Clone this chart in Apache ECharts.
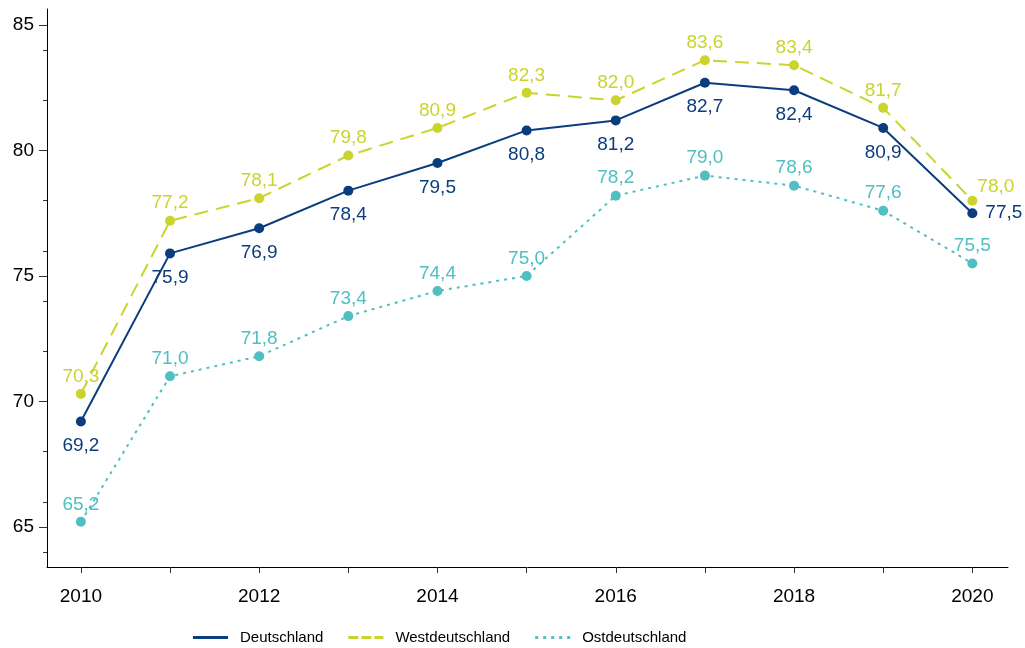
<!DOCTYPE html>
<html lang="de">
<head>
    <meta charset="UTF-8">
    <title>Deutschland / West / Ost</title>
    <script src="https://cdn.jsdelivr.net/npm/echarts@6/dist/echarts.min.js"></script>
    <style>
        body { margin: 0; background: #fff; }
    </style>
</head>
<body>
<div id="main" style="width: 1025px;height: 648px"></div>
<script type="text/javascript">
    // Daten
    var years = [2010, 2011, 2012, 2013, 2014, 2015, 2016, 2017, 2018, 2019, 2020];
    var deutschland = [69.2, 75.9, 76.9, 78.4, 79.5, 80.8, 81.2, 82.7, 82.4, 80.9, 77.5];
    var west = [70.3, 77.2, 78.1, 79.8, 80.9, 82.3, 82.0, 83.6, 83.4, 81.7, 78.0];
    var ost = [65.2, 71.0, 71.8, 73.4, 74.4, 75.0, 78.2, 79.0, 78.6, 77.6, 75.5];
    var xLabels = [2010, 2012, 2014, 2016, 2018, 2020];
    var yLabels = [65, 70, 75, 80, 85];
    var yMinorTicks = [64, 66, 68, 70, 72, 74, 76, 78, 80, 82, 84];

    var font = 'Liberation Sans, Arial, sans-serif';
    var cDe = '#0a3d7e', cWest = '#cad42c', cOst = '#4fbfc1';

    // Legendensymbole: durchgezogen, gestrichelt, gepunktet (35x3)
    var iconSolid = 'path://M0,0h35v3h-35z';
    var iconDash = 'path://M0,0h10v3h-10z M13,0h10v3h-10z M26,0h9v3h-9z';
    var iconDot = 'path://M0,0h3v3h-3z M8,0h3v3h-3z M16,0h3v3h-3z M24,0h3v3h-3z M32,0h3v3h-3z';

    function pairs(arr) {
        return arr.map(function (v, i) { return [years[i], v]; });
    }
    function fmt(p) {
        return p.value[1].toFixed(1).replace('.', ',');
    }

    var myChart = echarts.init(document.getElementById('main'));
    var option = {
        animation: false,
        grid: {left: 47, right: 17, top: 9, bottom: 81},
        legend: {
            top: 625,
            left: 188,
            itemWidth: 35,
            itemHeight: 3,
            itemGap: 25,
            textStyle: {fontFamily: font, fontSize: 15, color: '#000', padding: [0, 0, 0, 7]},
            data: [
                {name: 'Deutschland', icon: iconSolid},
                {name: 'Westdeutschland', icon: iconDash},
                {name: 'Ostdeutschland', icon: iconDot}
            ]
        },
        xAxis: {
            type: 'value',
            min: 2009.62,
            max: 2020.4,
            splitLine: {show: false},
            axisLine: {lineStyle: {color: '#000', width: 1}},
            axisTick: {customValues: years, length: 6, lineStyle: {color: '#333'}},
            axisLabel: {
                customValues: xLabels,
                fontFamily: font, fontSize: 19, color: '#000', margin: 20,
                formatter: function (v) { return String(v); }
            }
        },
        yAxis: [{
            type: 'value',
            min: 63.4,
            max: 85.64,
            splitLine: {show: false},
            axisLine: {show: true, lineStyle: {color: '#000', width: 1}},
            axisTick: {customValues: yLabels, length: 8, lineStyle: {color: '#333'}},
            axisLabel: {
                customValues: yLabels,
                fontFamily: font, fontSize: 19, color: '#000', margin: 13
            }
        }, {
            type: 'value',
            position: 'left',
            min: 63.4,
            max: 85.64,
            splitLine: {show: false},
            axisLine: {show: false},
            axisTick: {customValues: yMinorTicks, length: 4, lineStyle: {color: '#333'}},
            axisLabel: {show: false}
        }],
        series: [{
            name: 'Westdeutschland',
            type: 'line',
            symbol: 'circle',
            symbolSize: 10,
            lineStyle: {color: cWest, width: 2, type: [14, 8]},
            itemStyle: {color: cWest},
            label: {
                show: true, position: 'top', distance: 3,
                fontFamily: font, fontSize: 19, color: cWest, formatter: fmt
            },
            data: pairs(west).map(function (d, i) {
                if (i === years.length - 1) {
                    return {value: d, label: {position: 'right', offset: [-3, -14]}};
                }
                return d;
            })
        }, {
            name: 'Ostdeutschland',
            type: 'line',
            symbol: 'circle',
            symbolSize: 10,
            lineStyle: {color: cOst, width: 2, type: [3, 5]},
            itemStyle: {color: cOst},
            label: {
                show: true, position: 'top', distance: 3,
                fontFamily: font, fontSize: 19, color: cOst, formatter: fmt
            },
            data: pairs(ost)
        }, {
            name: 'Deutschland',
            type: 'line',
            symbol: 'circle',
            symbolSize: 10,
            lineStyle: {color: cDe, width: 2},
            itemStyle: {color: cDe},
            label: {
                show: true, position: 'bottom', distance: 10,
                fontFamily: font, fontSize: 19, color: cDe, formatter: fmt
            },
            data: pairs(deutschland).map(function (d, i) {
                if (i === years.length - 1) {
                    return {value: d, label: {position: 'right', distance: 8}};
                }
                return d;
            })
        }]
    };
    myChart.setOption(option);
</script>
</body>
</html>
